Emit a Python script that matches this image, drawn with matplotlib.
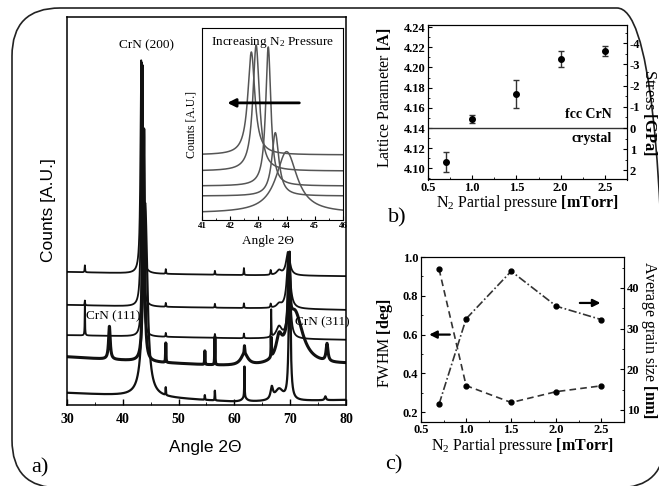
import numpy as np
import matplotlib
matplotlib.use("Agg")
import matplotlib.pyplot as plt
import matplotlib.patches as mpatches
from matplotlib.transforms import IdentityTransform
from matplotlib.ticker import MultipleLocator

plt.rcParams['axes.unicode_minus'] = False
plt.rcParams['mathtext.fontset'] = 'custom'
plt.rcParams['mathtext.rm'] = 'Liberation Serif'
plt.rcParams['mathtext.bf'] = 'Liberation Serif:bold'
plt.rcParams['mathtext.it'] = 'Liberation Serif:italic'
SERIF = 'Liberation Serif'
SANS = 'Liberation Sans'

# ---------------- data ----------------
# panel a: XRD patterns (top to bottom = 2.5, 2.0, 1.5, 1.0, 0.7 mTorr)
# baseline knots (angle, level) and peaks (center, height, fwhm)
base_angles = [30, 45, 60, 66, 80]
base_T1 = [0.343, 0.338, 0.335, 0.334, 0.332]
base_T2 = [0.258, 0.253, 0.250, 0.249, 0.245]
base_T3 = [0.180, 0.176, 0.172, 0.171, 0.168]
base_T4 = [0.124, 0.110, 0.098, 0.095, 0.104]
base_T5 = [0.031, 0.020, 0.008, 0.008, 0.013]

peaks_T1 = [(43.3, 0.55, 0.33), (33.2, 0.018, 0.1), (47.7, 0.012, 0.1), (56.5, 0.010, 0.1),
            (61.7, 0.018, 0.1), (66.5, 0.012, 0.15), (68.0, 0.012, 1.0), (69.6, 0.060, 0.8)]
peaks_T2 = [(43.4, 0.63, 0.30), (33.2, 0.010, 0.1), (47.7, 0.010, 0.1), (56.5, 0.010, 0.1),
            (61.7, 0.012, 0.1), (66.5, 0.010, 0.15), (68.0, 0.010, 1.0), (69.7, 0.145, 0.7)]
peaks_T3 = [(43.55, 0.70, 0.25), (33.2, 0.090, 0.08), (47.7, 0.010, 0.1), (56.5, 0.010, 0.1),
            (61.7, 0.012, 0.1), (66.6, 0.070, 0.08), (68.0, 0.030, 1.2), (69.8, 0.22, 0.5)]
peaks_T4 = [(43.75, 0.60, 0.34), (37.6, 0.085, 0.35), (47.7, 0.050, 0.08), (54.7, 0.035, 0.08),
            (56.5, 0.070, 0.08), (61.8, 0.030, 1.5), (61.8, 0.020, 0.1), (66.6, 0.050, 0.08),
            (68.0, 0.050, 1.2), (69.8, 0.18, 0.35), (70.8, 0.14, 3.5), (76.6, 0.045, 0.4)]
peaks_T5 = [(44.0, 0.50, 0.94), (47.7, 0.020, 0.08), (54.7, 0.012, 0.08), (56.5, 0.025, 0.08),
            (61.8, 0.080, 0.08), (61.8, 0.010, 1.0), (66.7, 0.030, 0.5), (68.0, 0.030, 1.8),
            (69.9, 0.38, 0.35), (76.3, 0.010, 0.3)]

# inset: (center, height, fwhm, baseline)
inset_centers = [42.75, 42.92, 43.35, 43.60, 44.00]
inset_heights = [0.536, 0.656, 0.724, 0.330, 0.320]
inset_fwhm = [0.30, 0.28, 0.22, 0.30, 0.90]
inset_base = [0.339, 0.255, 0.177, 0.125, 0.036]

# panel b
pressure = [0.7, 1.0, 1.5, 2.0, 2.5]
lattice = [4.106, 4.149, 4.174, 4.208, 4.2165]
lattice_err = [0.010, 0.004, 0.014, 0.008, 0.005]
a0 = 4.14
gpa_per_A = 0.021

# panel c
fwhm = [0.938, 0.337, 0.250, 0.306, 0.336]
grain = [11.4, 32.4, 44.1, 35.5, 32.2]

# ---------------- helpers ----------------
def lor(x, c, h, w):
    return h / (1.0 + ((x - c) / (w / 2.0)) ** 2)

def trace(x, base, peaks):
    y = np.interp(x, base_angles, base)
    for c, h, w in peaks:
        y = y + lor(x, c, h, w)
    return y

W, H = 659, 486
fig = plt.figure(figsize=(W / 100, H / 100), dpi=100)

def ax_px(l, t, r, b):
    return fig.add_axes([l / W, 1 - b / H, (r - l) / W, (b - t) / H])

def ftext(x, y, s, **kw):
    fig.text(x / W, 1 - y / H, s, **kw)

# ---------------- panel a ----------------
axa = ax_px(67, 17, 346, 405)
xx = np.linspace(30, 80, 6001)
traces = [(base_T1, peaks_T1, 1.3), (base_T2, peaks_T2, 1.3), (base_T3, peaks_T3, 1.3),
          (base_T4, peaks_T4, 2.2), (base_T5, peaks_T5, 1.6)]
for b, p, lw in traces:
    axa.plot(xx, trace(xx, b, p), color='#111111', lw=lw)
axa.set_xlim(30, 80)
axa.set_ylim(0, 1)
axa.set_yticks([])
axa.xaxis.set_major_locator(MultipleLocator(10))
axa.xaxis.set_minor_locator(MultipleLocator(5))
axa.tick_params(axis='x', direction='in', length=4, width=1, pad=6)
axa.tick_params(axis='x', which='minor', direction='in', length=2.5)
for lab in axa.get_xticklabels():
    lab.set_fontfamily(SERIF); lab.set_fontweight('bold'); lab.set_fontsize(10)
for s in axa.spines.values():
    s.set_linewidth(1.1)
axa.text(44.3, 0.928, 'CrN (200)', ha='center', va='center', family=SERIF, fontsize=9.5)
axa.text(38.3, 0.229, 'CrN (111)', ha='center', va='center', family=SERIF, fontsize=9.5)
axa.text(75.8, 0.214, 'CrN (311)', ha='center', va='center', family=SERIF, fontsize=9.5)
ftext(205, 447, 'Angle 2\u0398', ha='center', va='center', family=SANS, fontsize=12.5)
ftext(48, 210, 'Counts [A.U.]', ha='center', va='center', rotation=90, family=SANS, fontsize=12.5)

# inset
axi = ax_px(202, 28, 343, 220)
xi = np.linspace(41, 46, 2001)
for c, h, w, b in zip(inset_centers, inset_heights, inset_fwhm, inset_base):
    axi.plot(xi, b + lor(xi, c, h, w), color='#555555', lw=1.1)
axi.set_xlim(41, 46)
axi.set_ylim(0, 1)
axi.set_yticks([])
axi.xaxis.set_major_locator(MultipleLocator(1))
axi.xaxis.set_minor_locator(MultipleLocator(0.5))
axi.tick_params(axis='x', direction='in', length=3, pad=1.5)
axi.tick_params(axis='x', which='minor', direction='in', length=1.5)
for lab in axi.get_xticklabels():
    lab.set_fontfamily(SERIF); lab.set_fontweight('bold'); lab.set_fontsize(6.5)
axi.text(0.5, 0.965, 'Increasing N$_2$ Pressure', transform=axi.transAxes, ha='center', va='top',
         family=SERIF, fontsize=9.5)
axi.annotate('', xy=(41.8, 0.61), xytext=(44.55, 0.61),
             arrowprops=dict(arrowstyle='-|>', color='black', lw=2.0, mutation_scale=12))
ftext(268, 241, 'Angle 2\u0398', ha='center', va='center', family=SERIF, fontsize=9.5)
ftext(191, 124, 'Counts [A.U.]', ha='center', va='center', rotation=90, family=SERIF, fontsize=8.5)

# ---------------- panel b ----------------
axb = ax_px(428, 25, 627, 179.5)
axb.errorbar(pressure, lattice, yerr=lattice_err, fmt='o', color='black', ms=4,
             ecolor='#333333', elinewidth=1.0, capsize=2.5, capthick=1.0)
axb.axhline(a0, color='#333333', lw=1.0)
axb.set_xlim(0.5, 2.75)
axb.set_ylim(4.089, 4.242)
axb.xaxis.set_minor_locator(MultipleLocator(0.25))
axb.yaxis.set_minor_locator(MultipleLocator(0.01))
axb.tick_params(direction='in', length=3, pad=2)
axb.tick_params(which='minor', direction='in', length=1.5)
axb.set_xticks([0.5, 1.0, 1.5, 2.0, 2.5])
axb.set_xticklabels(['0.5', '1.0', '1.5', '2.0', '2.5'])
axb.set_yticks([4.10, 4.12, 4.14, 4.16, 4.18, 4.20, 4.22, 4.24])
axb.set_yticklabels(['%.2f' % v for v in [4.10, 4.12, 4.14, 4.16, 4.18, 4.20, 4.22, 4.24]])
axb2 = axb.twinx()
lo, hi = axb.get_ylim()
axb2.set_ylim((a0 - lo) / gpa_per_A, (a0 - hi) / gpa_per_A)
axb2.set_yticks([2, 1, 0, -1, -2, -3, -4])
axb2.set_yticklabels(['2', '1', '0', '-1', '-2', '-3', '-4'])
axb2.yaxis.set_minor_locator(MultipleLocator(0.5))
axb2.tick_params(direction='in', length=3, pad=2)
axb2.tick_params(which='minor', direction='in', length=1.5)
for a in (axb, axb2):
    for lab in a.get_xticklabels() + a.get_yticklabels():
        lab.set_fontfamily(SERIF); lab.set_fontweight('bold'); lab.set_fontsize(9)
axb.text(2.58, 4.1537, 'fcc CrN', ha='right', va='center', family=SERIF, fontweight='bold', fontsize=10)
axb.text(2.58, 4.130, 'crystal', ha='right', va='center', family=SERIF, fontweight='bold', fontsize=10)
ftext(527, 203, 'N$_2$ Partial pressure $\\mathbf{[mTorr]}$', ha='center', va='center', family=SERIF, fontsize=11.5)
ftext(384, 98, 'Lattice Parameter $\\mathbf{[A]}$', ha='center', va='center', rotation=90, family=SERIF, fontsize=11.5)
ftext(650, 113, 'Stress $\\mathbf{[GPa]}$', ha='center', va='center', rotation=270, family=SERIF, fontsize=12)
ftext(397, 218, 'b)', ha='center', va='center', family=SERIF, fontsize=16)

# ---------------- panel c ----------------
axc = ax_px(421, 257, 624, 421.7)
axc.plot(pressure, fwhm, linestyle=(0, (4, 2.5)), color='#333333', lw=1.2, marker='o', ms=3.5,
         mfc='black', mec='black')
axc.set_xlim(0.5, 2.75)
axc.set_ylim(0.151, 1.0)
axc.set_xticks([0.5, 1.0, 1.5, 2.0, 2.5])
axc.set_xticklabels(['0.5', '1.0', '1.5', '2.0', '2.5'])
axc.set_yticks([0.2, 0.4, 0.6, 0.8, 1.0])
axc.set_yticklabels(['0.2', '0.4', '0.6', '0.8', '1.0'])
axc.xaxis.set_minor_locator(MultipleLocator(0.25))
axc.yaxis.set_minor_locator(MultipleLocator(0.1))
axc.tick_params(direction='in', length=3, pad=2)
axc.tick_params(which='minor', direction='in', length=1.5)
axc2 = axc.twinx()
axc2.plot(pressure, grain, linestyle=(0, (5, 1.5, 1, 1.5)), color='#333333', lw=1.2, marker='o', ms=3.5,
          mfc='black', mec='black')
axc2.set_ylim(7.1, 47.6)
axc2.set_yticks([10, 20, 30, 40])
axc2.set_yticklabels(['10', '20', '30', '40'])
axc2.yaxis.set_minor_locator(MultipleLocator(5))
axc2.tick_params(direction='in', length=3, pad=2)
axc2.tick_params(which='minor', direction='in', length=1.5)
for a in (axc, axc2):
    for lab in a.get_xticklabels() + a.get_yticklabels():
        lab.set_fontfamily(SERIF); lab.set_fontweight('bold'); lab.set_fontsize(9)
axc.annotate('', xy=(0.56, 0.6), xytext=(0.85, 0.6),
             arrowprops=dict(arrowstyle='-|>', color='black', lw=1.6, mutation_scale=11))
axc2.annotate('', xy=(2.52, 36.3), xytext=(2.23, 36.3),
              arrowprops=dict(arrowstyle='-|>', color='black', lw=1.6, mutation_scale=11))
ftext(522, 446, 'N$_2$ Partial pressure $\\mathbf{[mTorr]}$', ha='center', va='center', family=SERIF, fontsize=11.5)
ftext(385, 343, 'FWHM $\\mathbf{[deg]}$', ha='center', va='center', rotation=90, family=SERIF, fontsize=11.5)
ftext(649, 340, 'Average grain size $\\mathbf{[nm]}$', ha='center', va='center', rotation=270, family=SERIF, fontsize=11.5)
ftext(394, 465, 'c)', ha='center', va='center', family=SERIF, fontsize=16)

ftext(40, 468, 'a)', ha='center', va='center', family=SERIF, fontsize=16)

# rounded outer frame (pixel coordinates)
frame = mpatches.FancyBboxPatch((12, -2), 653, 480, boxstyle='round,pad=0,rounding_size=48',
                                transform=IdentityTransform(), fill=False, lw=1.2,
                                edgecolor='#222222', figure=fig)
fig.patches.append(frame)

fig.savefig('out.png', dpi=100)
